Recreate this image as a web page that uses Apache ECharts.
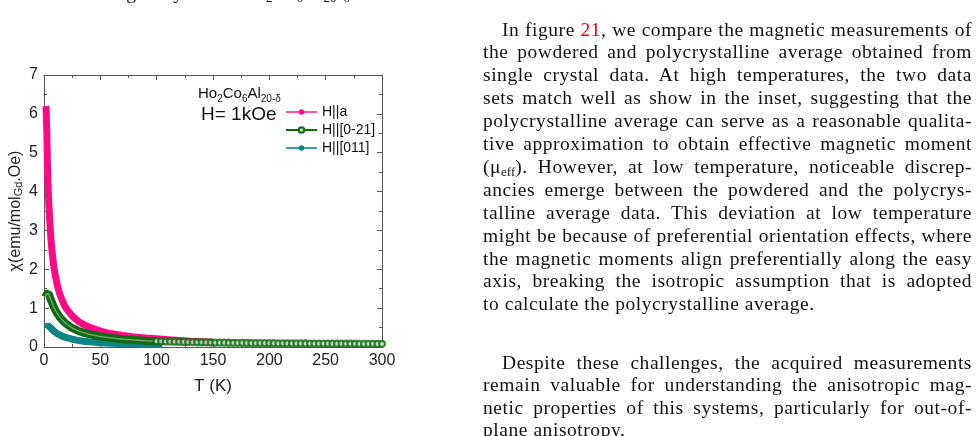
<!DOCTYPE html>
<html><head><meta charset="utf-8">
<script src="https://cdn.jsdelivr.net/npm/echarts@6/dist/echarts.min.js"></script>
<style>
body{margin:0;background:#fff;width:979px;height:436px;overflow:hidden;position:relative;}
#chart{position:absolute;left:0;top:0;width:979px;height:436px;}
.ln{position:absolute;font-family:"Liberation Serif","DejaVu Serif",serif;font-size:19.5px;letter-spacing:0.55px;line-height:23px;color:#111;white-space:nowrap;}
.red{color:#e8000b;}
sub{font-size:13px;vertical-align:-3px;line-height:0;letter-spacing:0;}
</style></head>
<body>
<div id="chart"></div>
<div class="ln" style="left:20px;top:-19px;width:330px;text-align:right;">single crystal of Ho<sub>2</sub>Co<sub>6</sub>Al<sub>20−δ</sub></div>
<div id="txt"></div>
<script>
// ---- data ----
// H||a (pink)
const T_A   = [1.8, 2.0, 2.5, 3.0, 3.5, 4.0, 5.0, 6.0, 7.0, 8.0, 9.0, 10, 12, 14, 16, 18, 20, 25, 30, 35, 40, 50, 60, 70, 80, 90, 100, 110, 120, 130, 140, 150];
const CHI_A = [6.20, 6.19, 5.55, 4.78, 4.25, 3.88, 3.28, 2.84, 2.50, 2.23, 2.02, 1.84, 1.57, 1.36, 1.21, 1.08, 0.98, 0.80, 0.67, 0.58, 0.51, 0.41, 0.34, 0.295, 0.26, 0.23, 0.21, 0.19, 0.17, 0.15, 0.135, 0.12];
// H||[0-21] (green), dense low-T part
const T_B   = [1.8, 2.0, 2.5, 3.0, 3.5, 4.0, 5.0, 6.0, 7.0, 8.0, 9.0, 10, 12, 14, 16, 18, 20, 25, 30, 35, 40, 50, 60, 70, 80, 90, 100];
const CHI_B = [1.30, 1.36, 1.41, 1.42, 1.41, 1.38, 1.30, 1.22, 1.15, 1.08, 1.01, 0.95, 0.85, 0.77, 0.70, 0.64, 0.59, 0.49, 0.42, 0.37, 0.33, 0.27, 0.23, 0.20, 0.18, 0.16, 0.15];
// H||[0-21] (green), sparse high-T points
const T_B_HI   = [100,104,108,112,116,120,124,128,132,136,140,144,148,152,156,160,164,168,172,176,180,184,188,192,196,200,204,208,212,216,220,224,228,232,236,240,244,248,252,256,260,264,268,272,276,280,284,288,292,296,300];
const CHI_B_HI = [.150,.146,.142,.139,.136,.133,.130,.127,.125,.122,.120,.118,.116,.114,.112,.111,.109,.108,.106,.105,.103,.102,.101,.100,.099,.098,.096,.095,.095,.094,.093,.092,.091,.090,.089,.089,.088,.087,.087,.086,.085,.085,.084,.084,.083,.082,.082,.081,.081,.080,.080];
// H||[011] (teal)
const T_C   = [1.8, 2.0, 2.5, 3.0, 3.5, 4.0, 5.0, 6.0, 7.0, 8.0, 9.0, 10, 12, 14, 16, 18, 20, 25, 30, 35, 40, 50, 60, 70, 80, 90, 100, 105];
const CHI_C = [0.50, 0.52, 0.55, 0.56, 0.56, 0.55, 0.52, 0.49, 0.46, 0.43, 0.40, 0.38, 0.34, 0.31, 0.28, 0.26, 0.24, 0.20, 0.17, 0.15, 0.135, 0.11, 0.095, 0.085, 0.075, 0.07, 0.065, 0.063];

const SERIES_NAMES = ['H||a', 'H||[0-21]', 'H||[011]'];
const X_NAME = 'T (K)';
const Y_NAME = 'χ(emu/mol{s|Gd}.Oe)';
const COMPOUND = '{m|Ho}{s|2}{m|Co}{s|6}{m|Al}{s|20-δ}';
const FIELD = 'H= 1kOe';

// paragraph text (right column)
const P1 = [
 'In figure <span class="red">21</span>, we compare the magnetic measurements of',
 'the powdered and polycrystalline average obtained from',
 'single crystal data. At high temperatures, the two data',
 'sets match well as show in the inset, suggesting that the',
 'polycrystalline average can serve as a reasonable qualita-',
 'tive approximation to obtain effective magnetic moment',
 '(μ<sub>eff</sub>). However, at low temperature, noticeable discrep-',
 'ancies emerge between the powdered and the polycrys-',
 'talline average data. This deviation at low temperature',
 'might be because of preferential orientation effects, where',
 'the magnetic moments align preferentially along the easy',
 'axis, breaking the isotropic assumption that is adopted',
 'to calculate the polycrystalline average.'
];
const P2 = [
 'Despite these challenges, the acquired measurements',
 'remain valuable for understanding the anisotropic mag-',
 'netic properties of this systems, particularly for out-of-',
 'plane anisotropy.'
];
(function(){
  const box = document.getElementById('txt');
  function put(lines, c0, step){
    lines.forEach((s,i)=>{
      const d = document.createElement('div');
      d.className = 'ln';
      const indent = i===0 ? 19 : 0;
      d.style.left = (483+indent)+'px';
      d.style.top = (c0 + i*step - 13.5)+'px';
      d.innerHTML = s;
      box.appendChild(d);
      if (i < lines.length-1) {
        const target = 489 - indent;
        const w = d.getBoundingClientRect().width;
        const spaces = (d.textContent.match(/ /g) || []).length;
        if (spaces > 0) d.style.wordSpacing = ((target - w) / spaces) + 'px';
      }
    });
  }
  put(P1, 31, 22.9);
  put(P2, 364, 22.6);
})();

const zip = (a,b)=>a.map((v,i)=>[v,b[i]]);
const PINK='#ff0a84', GREEN='#0d6b0d', TEAL='#0b8585';
const AX='#555', FONT='Arial, "Liberation Sans", sans-serif';

const chart = echarts.init(document.getElementById('chart'), null, {renderer:'canvas'});
const axisCommon = {
  axisLine:{show:true, onZero:false, lineStyle:{color:AX, width:1}},
  axisTick:{show:true, inside:true, length:5, lineStyle:{color:AX}},
  minorTick:{show:true, splitNumber:2, length:3, lineStyle:{color:AX}},
  splitLine:{show:false}
};
chart.setOption({
  animation:false,
  grid:{left:44, right:597, top:75, bottom:89},
  xAxis:[
    Object.assign({type:'value', min:0, max:300, interval:50, position:'bottom',
      name:X_NAME, nameLocation:'middle', nameGap:31,
      nameTextStyle:{fontSize:17, color:'#222', fontFamily:FONT},
      axisLabel:{fontSize:16, color:'#222', margin:6, fontFamily:FONT}}, axisCommon),
    Object.assign({type:'value', min:0, max:300, interval:50, position:'top', axisLabel:{show:false}}, axisCommon)
  ],
  yAxis:[
    Object.assign({type:'value', min:0, max:7, interval:1, position:'left',
      name:Y_NAME, nameLocation:'middle', nameGap:20, nameRotate:90,
      nameTextStyle:{fontSize:16, color:'#222', fontFamily:FONT,
        rich:{s:{fontSize:11, color:'#222', fontFamily:FONT, verticalAlign:'bottom', lineHeight:16}}},
      axisLabel:{fontSize:16, color:'#222', margin:6, fontFamily:FONT}}, axisCommon),
    Object.assign({type:'value', min:0, max:7, interval:1, position:'right', axisLabel:{show:false}}, axisCommon)
  ],
  legend:{
    orient:'vertical', left:285, top:105, padding:0, itemWidth:31, itemHeight:7, itemGap:4,
    textStyle:{fontSize:14, color:'#111', fontFamily:FONT},
    data:[
      {name:SERIES_NAMES[0], lineStyle:{color:'#ff4fa0', width:2}, itemStyle:{color:PINK}},
      {name:SERIES_NAMES[1], lineStyle:{color:GREEN, width:2}, itemStyle:{color:'#b8d8b8', borderColor:GREEN, borderWidth:2}},
      {name:SERIES_NAMES[2], lineStyle:{color:'#3a9e9e', width:2}, itemStyle:{color:TEAL}}
    ]
  },
  graphic:[
    {type:'text', left:198, top:86, style:{text:COMPOUND, fill:'#111',
      rich:{m:{fontSize:15, fontFamily:FONT, fill:'#111', lineHeight:18, verticalAlign:'bottom'},
            s:{fontSize:10, fontFamily:FONT, fill:'#111', lineHeight:14, verticalAlign:'bottom', padding:[0,0,-3,0]}}}},
    {type:'text', left:201, top:105, style:{text:FIELD, fill:'#111', fontSize:19, fontFamily:FONT}}
  ],
  series:[
    {name:SERIES_NAMES[0], type:'line', data:zip(T_A,CHI_A), showSymbol:false, symbol:'circle', symbolSize:7,
      lineStyle:{color:PINK, width:7}, itemStyle:{color:PINK}, z:2},
    {name:SERIES_NAMES[2], type:'line', data:zip(T_C,CHI_C), showSymbol:false, symbol:'circle', symbolSize:7,
      lineStyle:{color:TEAL, width:7}, itemStyle:{color:TEAL}, z:3},
    {name:SERIES_NAMES[1], type:'line', data:zip(T_B,CHI_B), showSymbol:false, symbol:'circle', symbolSize:7,
      lineStyle:{color:GREEN, width:8}, itemStyle:{color:'#bfe0bf', borderColor:GREEN, borderWidth:2}, z:4},
    {name:'g-center', type:'line', data:zip(T_B,CHI_B), showSymbol:false, symbol:'none',
      lineStyle:{color:'#6fa06f', width:1.5}, z:5, silent:true},
    {name:'g-hi', type:'scatter', data:zip(T_B_HI,CHI_B_HI), symbol:'circle', symbolSize:6,
      itemStyle:{color:'#d8ead8', borderColor:GREEN, borderWidth:2.3}, z:6}
  ]
});
</script>
</body></html>
